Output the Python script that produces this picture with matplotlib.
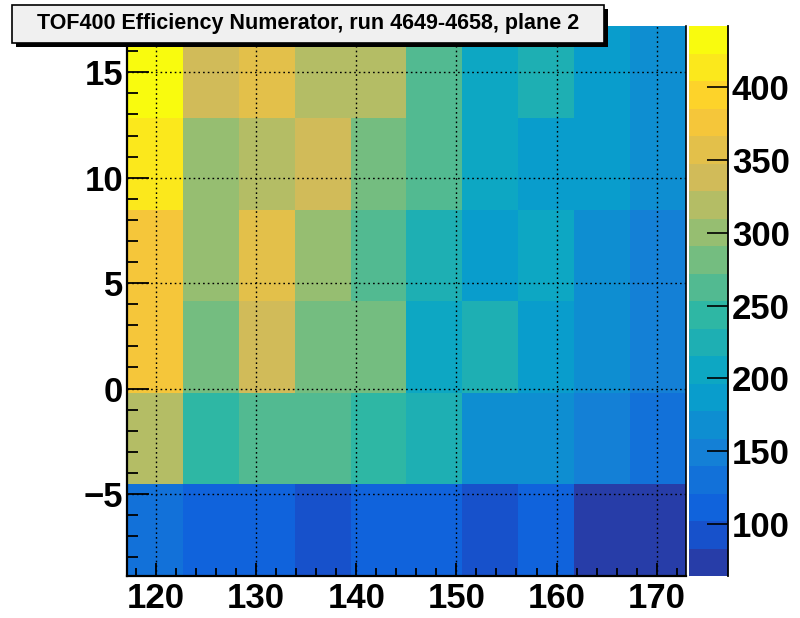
import numpy as np
import matplotlib.pyplot as plt
from matplotlib.colors import LinearSegmentedColormap, ListedColormap, Normalize
from matplotlib.patches import Rectangle
from matplotlib.ticker import MultipleLocator

plt.rcParams['font.family'] = ['Liberation Sans', 'DejaVu Sans']
plt.rcParams['font.weight'] = 'bold'

############################ HISTOGRAMA 2D = NUMERADOR ############################

title = 'TOF400 Efficiency Numerator, run 4649-4658, plane 2'

# binning do histograma
x_min, x_max, nx = 117.13, 172.9, 10
y_min, y_max, ny = -8.89, 17.18, 6

# conteudo dos bins, linha a linha de baixo (y menor) para cima
row0 = [130, 110, 112, 92, 106, 115, 93, 112, 70, 64]
row1 = [320, 245, 262, 265, 240, 224, 168, 165, 150, 130]
row2 = [375, 282, 340, 280, 278, 205, 226, 187, 168, 148]
row3 = [378, 300, 358, 302, 262, 224, 186, 206, 168, 150]
row4 = [414, 300, 318, 336, 284, 264, 206, 188, 186, 168]
row5 = [442, 338, 356, 320, 316, 258, 205, 225, 188, 170]
counts = np.array([row0, row1, row2, row3, row4, row5], dtype=float)

z_ticks = [100, 150, 200, 250, 300, 350, 400]
n_levels = 20

# paleta kBird do ROOT
bird_stops = [0.0, 0.125, 0.25, 0.375, 0.5, 0.625, 0.75, 0.875, 1.0]
bird_r = [0.2082, 0.0592, 0.0780, 0.0232, 0.1802, 0.5301, 0.8186, 0.9956, 0.9764]
bird_g = [0.1664, 0.3599, 0.5041, 0.6419, 0.7178, 0.7492, 0.7328, 0.7862, 0.9832]
bird_b = [0.5293, 0.8684, 0.8385, 0.7914, 0.6425, 0.4662, 0.3499, 0.1968, 0.0539]
bird = LinearSegmentedColormap.from_list(
    'bird', list(zip(bird_stops, zip(bird_r, bird_g, bird_b))), N=255)
# 20 niveis de contorno, mesma escolha de cor que o COLZ
level_cols = [bird(int((i + 0.99) * 255 / n_levels) / 254) for i in range(n_levels)]
cmap = ListedColormap(level_cols)
norm = Normalize(vmin=counts.min(), vmax=counts.max())

fig = plt.figure(figsize=(8, 6.18), dpi=100)
ax = fig.add_axes([127.3 / 800, 1 - 576 / 618, (685.7 - 127.3) / 800, (576 - 26.3) / 618])

x_edges = np.linspace(x_min, x_max, nx + 1)
y_edges = np.linspace(y_min, y_max, ny + 1)
mesh = ax.pcolormesh(x_edges, y_edges, counts, cmap=cmap, norm=norm, zorder=1)

ax.set_xlim(x_min, x_max)
ax.set_ylim(y_min, y_max)
ax.xaxis.set_major_locator(MultipleLocator(10))
ax.xaxis.set_minor_locator(MultipleLocator(2))
ax.yaxis.set_major_locator(MultipleLocator(5))
ax.yaxis.set_minor_locator(MultipleLocator(1))
ax.tick_params(axis='x', which='major', direction='in', length=9.5, width=1.3, labelsize=25, pad=4)
ax.tick_params(axis='x', which='minor', direction='in', length=5.8, width=1.3)
ax.tick_params(axis='y', which='major', direction='in', length=16, width=1.3, labelsize=25, pad=3)
ax.tick_params(axis='y', which='minor', direction='in', length=8, width=1.3)
ax.set_axisbelow(False)
ax.grid(True, which='major', color='k', linestyle=(0, (1.2, 2.2)), linewidth=1.0, zorder=3)
ax.spines['top'].set_visible(False)
ax.spines['left'].set_linewidth(1.6)
ax.spines['bottom'].set_linewidth(1.6)
ax.spines['right'].set_linewidth(1.2)

# paleta (eixo z)
cax = fig.add_axes([689 / 800, 1 - 576 / 618, 38.7 / 800, (576 - 26.3) / 618])
cb = fig.colorbar(mesh, cax=cax, ticks=z_ticks)
cb.outline.set_visible(False)
cax.axvline(1, color='k', linewidth=1.3, clip_on=False)
cax.tick_params(which='major', direction='in', length=15, width=1.2, labelsize=25, pad=3, color='k')
cax.minorticks_off()

# caixa do titulo com sombra
bx0, by0, bw, bh = 12 / 800, 1 - 43 / 618, 592 / 800, 38 / 618
fig.patches.append(Rectangle((bx0 + 4 / 800, by0 - 4 / 618), bw, bh, transform=fig.transFigure,
                             facecolor='black', edgecolor='none', zorder=5))
fig.patches.append(Rectangle((bx0, by0), bw, bh, transform=fig.transFigure,
                             facecolor='#f0f0f0', edgecolor='black', linewidth=1.2, zorder=6))
fig.text(bx0 + bw / 2, by0 + bh / 2, title, ha='center', va='center',
         fontsize=15.5, fontweight='bold', zorder=7)

fig.savefig('out.png', dpi=100)
